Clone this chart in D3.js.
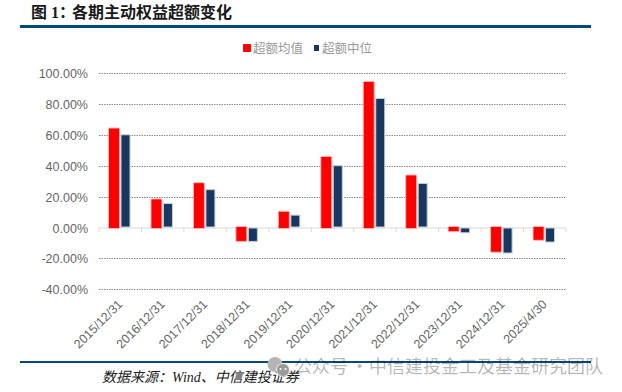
<!DOCTYPE html>
<html>
<head>
<meta charset="utf-8">
<script src="https://cdn.jsdelivr.net/npm/d3@7"></script>
<style>
  html, body { margin: 0; padding: 0; background: #fff; }
  svg { display: block; }
  text { font-family: "Liberation Sans", sans-serif; }
  .cjk { font-family: "Liberation Serif", "Noto Sans CJK SC", serif; }
</style>
</head>
<body>
<script>
const categories = ["2015/12/31","2016/12/31","2017/12/31","2018/12/31","2019/12/31","2020/12/31",
  "2021/12/31","2022/12/31","2023/12/31","2024/12/31","2025/4/30"];
const meanValues = [64.4, 18.5, 29, -9, 10.5, 46, 94.5, 34, -2.7, -16, -8.3];
const medianValues = [60, 15.5, 24.5, -9, 8, 40, 83.5, 28.5, -3.4, -16.5, -9.4];
const yTicks = [-40, -20, 0, 20, 40, 60, 80, 100];
const seriesNames = ["超额均值", "超额中位"];

const svg = d3.select("body").append("svg")
    .attr("width", 622)
    .attr("height", 392);

// top and bottom rules
svg.append("rect").attr("x", 20).attr("y", 25).attr("width", 571).attr("height", 3).attr("fill", "#004a7c");
svg.append("rect").attr("x", 20).attr("y", 361).attr("width", 571).attr("height", 2).attr("fill", "#004a7c");

svg.append("text")
    .attr("class", "cjk")
    .attr("x", 31)
    .attr("y", 18)
    .attr("font-size", 16)
    .attr("font-weight", "bold")
    .attr("fill", "#1a1a1a")
    .text("图 1\uFF1A");
svg.append("text")
    .attr("class", "cjk")
    .attr("x", 72)
    .attr("y", 18)
    .attr("font-size", 16)
    .attr("font-weight", "bold")
    .attr("fill", "#1a1a1a")
    .text("各期主动权益超额变化");

const x = d3.scaleBand().domain(categories).range([99, 566]);
const y = d3.scaleLinear().domain([-40, 100]).range([289.3, 73]);

// gridlines
svg.append("g")
    .selectAll("line")
    .data(yTicks.filter(d => d !== 0))
    .enter().append("line")
    .attr("x1", 99)
    .attr("x2", 566)
    .attr("y1", d => Math.round(y(d)) + 0.5)
    .attr("y2", d => Math.round(y(d)) + 0.5)
    .attr("stroke", "#8c8c8c")
    .attr("stroke-width", 1)
    .attr("stroke-dasharray", "1.5,1");

// y axis labels
const yAxis = svg.append("g")
    .attr("transform", "translate(88,0.5)")
    .call(d3.axisLeft(y).tickValues(yTicks).tickSize(0).tickFormat(d => d.toFixed(2) + "%"));
yAxis.select(".domain").remove();
yAxis.selectAll("text")
    .attr("x", 0)
    .attr("font-family", "Liberation Sans")
    .attr("font-size", 12.5)
    .attr("fill", "#666666");

// zero line with boundary ticks
svg.append("line")
    .attr("x1", 99).attr("x2", 566)
    .attr("y1", 228).attr("y2", 228)
    .attr("stroke", "#d9d9d9");
svg.append("g")
    .selectAll("line")
    .data(categories.concat("end"))
    .enter().append("line")
    .attr("x1", (d, i) => 99 + i * x.step())
    .attr("x2", (d, i) => 99 + i * x.step())
    .attr("y1", 228)
    .attr("y2", 232)
    .attr("stroke", "#d9d9d9");

// bars, the red ones run a little past the zero line
svg.append("g")
    .selectAll("rect")
    .data(meanValues)
    .enter().append("rect")
    .attr("x", (d, i) => x(categories[i]) + 9.5)
    .attr("width", 11)
    .attr("y", d => d < 0 ? y(0) - 1 : y(d))
    .attr("height", d => Math.abs(y(d) - y(0)) + 1)
    .attr("rx", 1)
    .attr("fill", "#ff0000")
    .attr("stroke", "#ffb3b3")
    .attr("stroke-width", 1);

svg.append("g")
    .selectAll("rect")
    .data(medianValues)
    .enter().append("rect")
    .attr("x", (d, i) => x(categories[i]) + 22)
    .attr("width", 9)
    .attr("y", d => d < 0 ? y(0) + 0.5 : y(d))
    .attr("height", d => d < 0 ? y(d) - y(0) - 0.5 : y(0) - y(d) - 0.5)
    .attr("fill", "#17375e")
    .attr("stroke", "#c5cdd8")
    .attr("stroke-width", 1);

// x labels
svg.append("g")
    .selectAll("text")
    .data(categories)
    .enter().append("text")
    .attr("transform", d => "translate(" + (x(d) + x.bandwidth() / 2 + 3) + ",305) rotate(-45)")
    .attr("text-anchor", "end")
    .attr("font-size", 12.5)
    .attr("fill", "#666666")
    .text(d => d);

// legend
svg.append("rect").attr("x", 243).attr("y", 44).attr("width", 8).attr("height", 8).attr("rx", 1).attr("fill", "#ff0000");
svg.append("text").attr("class", "cjk").attr("x", 253).attr("y", 53).attr("font-size", 12.5).attr("fill", "#999999").text(seriesNames[0]);
svg.append("rect").attr("x", 314).attr("y", 45).attr("width", 5).attr("height", 6).attr("fill", "#17375e");
svg.append("text").attr("class", "cjk").attr("x", 322).attr("y", 53).attr("font-size", 12.5).attr("fill", "#999999").text(seriesNames[1]);

// source line
svg.append("text")
    .attr("class", "cjk")
    .attr("x", 102)
    .attr("y", 382)
    .attr("font-size", 14)
    .attr("font-style", "italic")
    .attr("fill", "#222222")
    .text("数据来源\uFF1AWind\u3001中信建投证券");

// watermark
svg.append("circle").attr("cx", 275).attr("cy", 364.5).attr("r", 7.5).attr("fill", "#b5b5b5");
svg.append("circle").attr("cx", 283).attr("cy", 370).attr("r", 6.5).attr("fill", "#9a9a9a").attr("stroke", "#ffffff").attr("stroke-width", 0.8);
svg.append("circle").attr("cx", 280.5).attr("cy", 369).attr("r", 1).attr("fill", "#ffffff");
svg.append("circle").attr("cx", 285.5).attr("cy", 369).attr("r", 1).attr("fill", "#ffffff");
svg.append("g")
    .selectAll("text")
    .data([{ t: "公众号", x: 294 }, { t: "·", x: 350.5 }, { t: "中信建投金工及基金研究团队", x: 369 }])
    .enter().append("text")
    .attr("x", d => d.x)
    .attr("y", 373)
    .attr("font-size", 18)
    .attr("fill", "#000000")
    .attr("fill-opacity", 0.3)
    .style("font-family", "'Noto Sans CJK SC'")
    .text(d => d.t);
</script>
</body>
</html>
